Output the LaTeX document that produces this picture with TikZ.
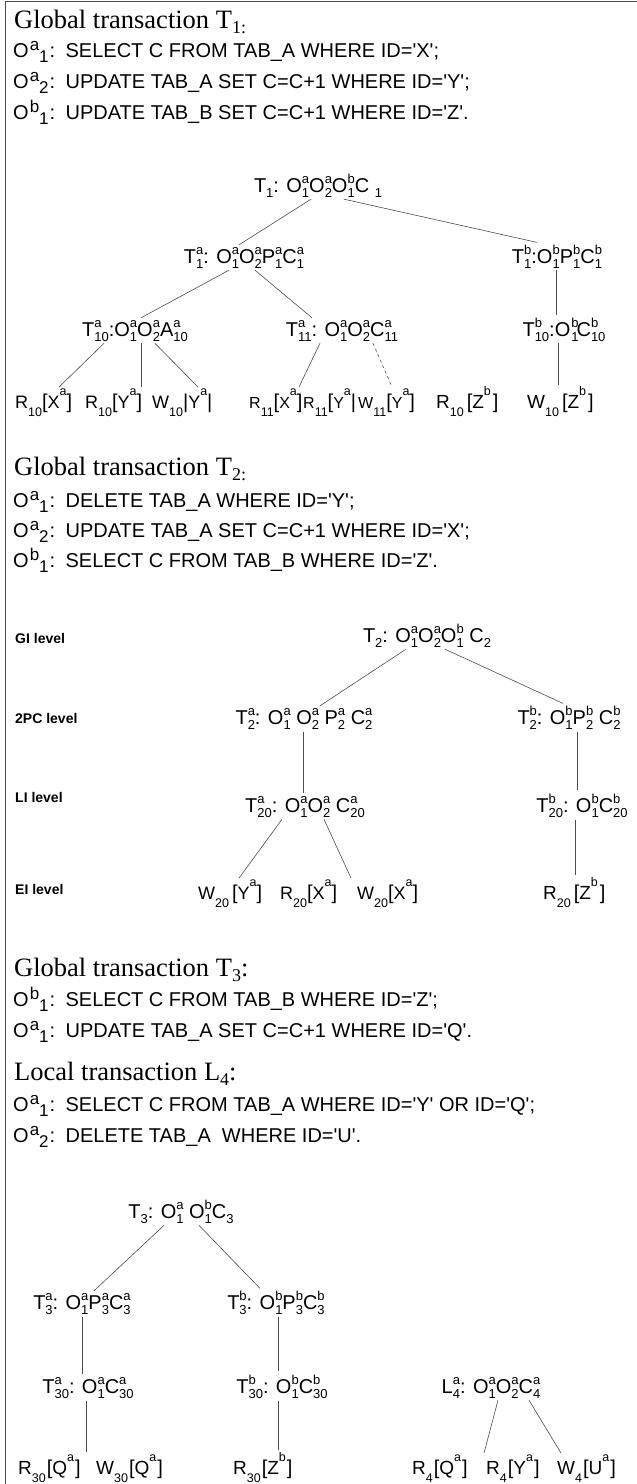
\documentclass[tikz,border=0pt]{standalone}
\usepackage{fontspec}
\setmainfont{Liberation Serif}
\setsansfont{Liberation Sans}
\newcommand\q{\textquotesingle}
\newcommand\scr{\fontsize{13}{13}\selectfont}
\newlength\sslen
\newcommand\SSc[2]{{\scr\setbox0\hbox{\raisebox{-5pt}{#1}}\setbox2\hbox{\raisebox{9pt}{#2}}%
 \ifdim\wd0>\wd2 \sslen=\wd0 \else \sslen=\wd2 \fi
 \makebox[\sslen][l]{\rlap{\box0}\box2}}}
\newcommand\Sub[1]{{\scr\raisebox{-5pt}{#1}}}
% leaf macros
\newcommand\lscr{\fontsize{12.5}{12.5}\selectfont}
\newcommand\LSub[1]{{\lscr\raisebox{-8.5pt}{#1}}}
\newcommand\LSup[1]{{\lscr\raisebox{13pt}{#1}}}
\newcommand\Lb{{\fontsize{20}{20}\selectfont[}}
\newcommand\Rb{{\fontsize{20}{20}\selectfont]}}
\newcommand\Br{{\fontsize{20}{20}\selectfont|}}
% SQL prefix
\newcommand\Op[2]{O\hspace{1pt}\raisebox{6.5pt}{\fontsize{17}{17}\selectfont #1}\raisebox{-5pt}{\fontsize{17}{17}\selectfont #2}\hspace{1pt}:\hspace{3pt}}
\newcommand\hs[1]{\raisebox{-5pt}{\fontsize{18}{18}\selectfont #1}}
\tikzset{
  head/.style={anchor=base west, inner sep=0pt, font=\fontsize{26.5}{28}\selectfont\rmfamily},
  sql/.style={anchor=base west, inner sep=0pt, font=\fontsize{20}{22}\selectfont\sffamily},
  lvl/.style={anchor=base west, inner sep=0pt, font=\fontsize{14}{16}\selectfont\sffamily\bfseries},
  tn/.style={anchor=base, inner sep=0pt, font=\fontsize{20}{22}\selectfont\sffamily},
  lf/.style={anchor=base west, inner sep=0pt, font=\fontsize{18}{20}\selectfont\sffamily},
  lfn/.style={lf, font=\fontsize{16}{20}\selectfont\sffamily},
  lfw/.style={lf, font=\fontsize{19}{20}\selectfont\sffamily},
  edge/.style={draw=black!70, line width=0.6pt},
  frame/.style={draw=black!70, line width=1pt}
}
\begin{document}
\begin{tikzpicture}[x=1pt,y=-1pt]
\useasboundingbox (0,0) rectangle (637,1484);
\fill[white] (0,0) rectangle (637,1484);
\coordinate (fa) at (5,1484);
\coordinate (fb) at (5,1.5);
\coordinate (fc) at (637,1.5);
\draw[frame] (fa) -- (fb) -- (fc);

% ---------- Section 1 ----------
\node[head] (h1) at (14,28) {Global transaction T\hs{1:}};
\node[sql] (s11) at (13,57) {\Op{a}{1} SELECT C FROM TAB\_A WHERE ID=\q X\q;};
\node[sql] (s12) at (13,88) {\Op{a}{2} UPDATE TAB\_A SET C=C+1 WHERE ID=\q Y\q;};
\node[sql] (s13) at (13,119) {\Op{b}{1} UPDATE TAB\_B SET C=C+1 WHERE ID=\q Z\q.};

\node[tn] (r1) at (318,192) {T\Sub{1}: O\SSc{1}{a}O\SSc{2}{a}O\SSc{1}{b}C \Sub{1}};
\node[tn] (a1) at (244,263) {T\SSc{1}{a}: O\SSc{1}{a}O\SSc{2}{a}P\SSc{1}{a}C\SSc{1}{a}};
\node[tn] (b1) at (557,263) {T\SSc{1}{b}:O\SSc{1}{b}P\SSc{1}{b}C\SSc{1}{b}};
\node[tn] (a10) at (135,336) {T\SSc{10}{a}:O\SSc{1}{a}O\SSc{2}{a}A\SSc{10}{a}};
\node[tn] (a11) at (342,336) {T\SSc{11}{a}: O\SSc{1}{a}O\SSc{2}{a}C\SSc{11}{a}};
\node[tn] (b10) at (564,336) {T\SSc{10}{b}:O\hspace{1pt}\SSc{1}{b}\hspace{-2pt}C\SSc{10}{b}};
\node[lf] (lA1) at (15,408) {R\LSub{10}\Lb X\LSup{a}\Rb};
\node[lf] (lA2) at (85,408) {R\LSub{10}\Lb Y\LSup{a}\Rb};
\node[lf] (lA3) at (152,408) {W\LSub{10}\Br Y\LSup{a}\Br};
\node[lfn] (lB1) at (249,408) {R\LSub{11}\Lb X\LSup{a}\Rb};
\node[lfn] (lB2) at (303,408) {R\LSub{11}\Lb Y\LSup{a}\Br};
\node[lfn] (lB3) at (358,408) {W\LSub{11}\Lb Y\LSup{a}\Rb};
\node[lfw] (lC1) at (436,408) {R\LSub{10}\hspace{3pt}\Lb Z\LSup{b}\hspace{2pt}\Rb};
\node[lfw] (lC2) at (527,408) {W\LSub{10}\hspace{3pt}\Lb Z\LSup{b}\hspace{2pt}\Rb};

\draw[edge] ([xshift=-7pt,yshift=-2pt]r1.south) -- ([xshift=-5pt,yshift=2pt]a1.north);
\draw[edge] ([xshift=26pt,yshift=-2pt]r1.south) -- ([xshift=-20pt,yshift=2pt]b1.north);
\draw[edge] ([xshift=-15pt,yshift=-2pt]a1.south) -- ([xshift=6pt,yshift=2pt]a10.north);
\draw[edge] ([xshift=11pt,yshift=-2pt]a1.south) -- ([xshift=-30pt,yshift=2pt]a11.north);
\draw[edge] ([xshift=-1pt,yshift=-2pt]b1.south) -- ([xshift=-8pt,yshift=2pt]b10.north);
\draw[edge] ([xshift=-31pt,yshift=-2pt]a10.south) -- ([xshift=44pt,yshift=1pt]lA1.north west);
\draw[edge] ([xshift=6pt,yshift=-2pt]a10.south) -- ([xshift=56pt,yshift=1pt]lA2.north west);
\draw[edge] ([xshift=20pt,yshift=-2pt]a10.south) -- ([xshift=46pt,yshift=1pt]lA3.north west);
\draw[edge] ([xshift=-22pt,yshift=-2pt]a11.south) -- ([xshift=50pt,yshift=1pt]lB1.north west);
\draw[edge,dashed] ([xshift=31pt,yshift=-2pt]a11.south) -- ([xshift=34pt,yshift=1pt]lB3.north west);
\draw[edge] ([xshift=-6pt,yshift=-2pt]b10.south) -- ([xshift=31pt,yshift=1pt]lC2.north west);

% ---------- Section 2 ----------
\node[head] (h2) at (14,475) {Global transaction T\hs{2:}};
\node[sql] (s21) at (13,507) {\Op{a}{1} DELETE TAB\_A WHERE ID=\q Y\q;};
\node[sql] (s22) at (13,537) {\Op{a}{2} UPDATE TAB\_A SET C=C+1 WHERE ID=\q X\q;};
\node[sql] (s23) at (13,567) {\Op{b}{1} SELECT C FROM TAB\_B WHERE ID=\q Z\q.};

\node[lvl] (gi) at (15,643) {GI level};
\node[lvl] (pc) at (15,723) {2PC level};
\node[lvl] (li) at (15,802) {LI level};
\node[lvl] (ei) at (15,894) {EI level};

\node[tn] (r2) at (427,642) {T\Sub{2}: O\SSc{1}{a}O\SSc{2}{a}O\SSc{1}{b} C\Sub{2}};
\node[tn] (a2) at (304,724) {T\SSc{2}{a}: O\SSc{1}{a} O\SSc{2}{a} P\SSc{2}{a} C\SSc{2}{a}};
\node[tn] (b2) at (569,724) {T\SSc{2}{b}: O\SSc{1}{b}P\SSc{2}{b} C\SSc{2}{b}};
\node[tn] (a20) at (305,812) {T\SSc{20}{a}: O\SSc{1}{a}O\SSc{2}{a} C\SSc{20}{a}};
\node[tn] (b20) at (582,812) {T\SSc{20}{b}: O\SSc{1}{b}C\SSc{20}{b}};
\node[lf] (lD1) at (198,899) {W\LSub{20}\,\Lb Y\LSup{a}\Rb};
\node[lf] (lD2) at (280,899) {R\LSub{20}\Lb X\LSup{a}\Rb};
\node[lf] (lD3) at (357,899) {W\LSub{20}\Lb X\LSup{a}\Rb};
\node[lfw] (lE) at (543,899) {R\LSub{20}\hspace{3pt}\Lb Z\LSup{b}\hspace{2pt}\Rb};

\draw[edge] ([xshift=-21pt,yshift=-2pt]r2.south) -- ([xshift=16pt,yshift=2pt]a2.north);
\draw[edge] ([xshift=18pt,yshift=-2pt]r2.south) -- ([xshift=-6pt,yshift=2pt]b2.north);
\draw[edge] ([xshift=-1pt,yshift=-3pt]a2.south) -- ([xshift=-2pt,yshift=3pt]a20.north);
\draw[edge] ([xshift=8pt,yshift=-3pt]b2.south) -- ([xshift=-5pt,yshift=3pt]b20.north);
\draw[edge] ([xshift=-23pt,yshift=-2pt]a20.south) -- ([xshift=41pt,yshift=1pt]lD1.north west);
\draw[edge] ([xshift=19pt,yshift=-2pt]a20.south) -- ([xshift=71pt,yshift=1pt]lD2.north west);
\draw[edge] ([xshift=-7pt,yshift=-3pt]b20.south) -- ([xshift=32pt,yshift=2pt]lE.north west);

% ---------- Section 3 ----------
\node[head] (h3) at (14,976) {Global transaction T\hs{3}:};
\node[sql] (s31) at (13,1006) {\Op{b}{1} SELECT C FROM TAB\_B WHERE ID=\q Z\q;};
\node[sql] (s32) at (13,1037) {\Op{a}{1} UPDATE TAB\_A SET C=C+1 WHERE ID=\q Q\q.};
\node[head] (h4) at (14,1080) {Local transaction L\hs{4}:};
\node[sql] (s41) at (13,1111) {\Op{a}{1} SELECT C FROM TAB\_A WHERE ID=\q Y\q{} OR ID=\q Q\q;};
\node[sql] (s42) at (13,1142) {\Op{a}{2} DELETE TAB\_A \ WHERE ID=\q U\q.};

\node[tn] (r3) at (181,1218) {T\Sub{3}: O\SSc{1}{a} O\SSc{1}{b}C\Sub{3}};
\node[tn] (a3) at (82,1309) {T\SSc{3}{a}: O\SSc{1}{a}P\SSc{3}{a}C\SSc{3}{a}};
\node[tn] (b3) at (276,1309) {T\SSc{3}{b}: O\SSc{1}{b}P\SSc{3}{b}C\SSc{3}{b}};
\node[tn] (a30) at (88,1393) {T\SSc{30}{a}: O\SSc{1}{a}C\SSc{30}{a}};
\node[tn] (b30) at (282,1393) {T\SSc{30}{b}: O\SSc{1}{b}C\SSc{30}{b}};
\node[tn] (l4) at (491,1393) {L\SSc{4}{a}: O\SSc{1}{a}O\SSc{2}{a}C\SSc{4}{a}};
\node[lfw] (lF1) at (18,1474) {R\LSub{30}\hspace{1pt}\Lb Q\LSup{a}\hspace{1pt}\Rb};
\node[lfw] (lF2) at (96,1474) {W\LSub{30}\hspace{1pt}\Lb Q\LSup{a}\hspace{1pt}\Rb};
\node[lfw] (lG) at (233,1474) {R\LSub{30}\hspace{1pt}\Lb Z\LSup{b}\hspace{1pt}\Rb};
\node[lfw] (lH1) at (412,1474) {R\LSub{4}\hspace{1pt}\Lb Q\LSup{a}\hspace{1pt}\Rb};
\node[lfw] (lH2) at (486,1474) {R\LSub{4}\hspace{1pt}\Lb Y\LSup{a}\hspace{1pt}\Rb};
\node[lfw] (lH3) at (557,1474) {W\LSub{4}\hspace{1pt}\Lb U\LSup{a}\hspace{1pt}\Rb};

\draw[edge] ([xshift=-17pt,yshift=-2pt]r3.south) -- ([xshift=12pt,yshift=2pt]a3.north);
\draw[edge] ([xshift=18pt,yshift=-2pt]r3.south) -- ([xshift=-16pt,yshift=2pt]b3.north);
\draw[edge] ([yshift=-3pt]a3.south) -- ([xshift=-6pt,yshift=3pt]a30.north);
\draw[edge] ([xshift=2pt,yshift=-3pt]b3.south) -- ([xshift=-4pt,yshift=3pt]b30.north);
\draw[edge] ([xshift=-2pt,yshift=-3pt]a30.south) -- ([xshift=68pt,yshift=2pt]lF1.north west);
\draw[edge] ([xshift=-4pt,yshift=-3pt]b30.south) -- ([xshift=45pt,yshift=2pt]lG.north west);
\draw[edge] ([xshift=7pt,yshift=-2pt]l4.south) -- ([xshift=72pt,yshift=1pt]lH1.north west);
\draw[edge] ([xshift=38pt,yshift=-2pt]l4.south) -- ([xshift=4pt,yshift=1pt]lH3.north west);
\end{tikzpicture}
\end{document}
